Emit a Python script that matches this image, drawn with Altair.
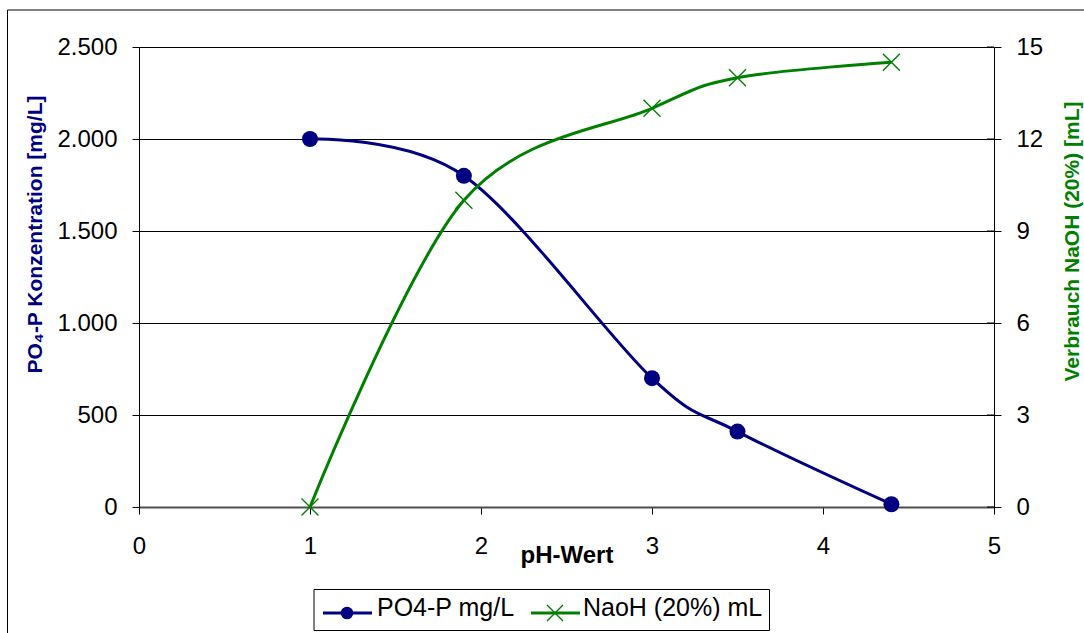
import altair as alt
import pandas as pd

# Titration: phosphate concentration and NaOH consumption vs. pH
ph_values = [1.0, 1.9, 3.0, 3.5, 4.4]
po4_mg_l = [2000, 1800, 700, 410, 15]
naoh_ml = [0.0, 10.0, 13.0, 14.0, 14.5]

po4_ticks = [0, 500, 1000, 1500, 2000, 2500]
naoh_ticks = [0, 3, 6, 9, 12, 15]
ph_ticks = [0, 1, 2, 3, 4, 5]

legend_labels = ["PO4-P mg/L", "NaoH (20%) mL"]

BLUE = "#000080"
GREEN = "#008000"
FONT = "Liberation Sans"
X_SHAPE = "M-1,-1L1,1M-1,1L1,-1"

df = pd.DataFrame({"ph": ph_values, "po4": po4_mg_l, "naoh": naoh_ml})
naoh_tick_df = pd.DataFrame({"naoh": naoh_ticks})
one = pd.DataFrame({"k": [0]})

x_enc = alt.X(
    "ph:Q",
    scale=alt.Scale(domain=[0, 5], nice=False),
    axis=alt.Axis(
        values=ph_ticks, grid=False, title="pH-Wert", format="d",
        titleFont=FONT, titleFontSize=24, titleFontWeight="bold", titleColor="black",
        titleBaseline="alphabetic", titleY=55,
        labelFont=FONT, labelFontSize=24, labelColor="black", labelPadding=20,
        labelFlush=False, tickSize=7, tickColor="black",
        domainColor="#4d4d4d", domainWidth=2,
    ),
)

y_po4 = alt.Y(
    "po4:Q",
    scale=alt.Scale(domain=[0, 2500], nice=False),
    axis=alt.Axis(
        orient="left", values=po4_ticks, grid=True, gridColor="black", gridWidth=1,
        title="PO₄-P Konzentration [mg/L]",
        titleFont=FONT, titleFontSize=21, titleFontWeight="bold", titleColor=BLUE,
        titleAngle=270, titleAlign="center", titleBaseline="middle",
        titleX=-104, titleY=187,
        labelExpr="replace(format(datum.value, ',d'), ',', '.')",
        labelFont=FONT, labelFontSize=24, labelColor="black", labelPadding=15,
        tickSize=7, tickColor="black", domainColor="black",
    ),
)

y_naoh = alt.Y(
    "naoh:Q",
    scale=alt.Scale(domain=[0, 15], nice=False),
    axis=alt.Axis(
        orient="right", values=naoh_ticks, grid=False, format="d",
        title="Verbrauch NaOH (20%) [mL]",
        titleFont=FONT, titleFontSize=21, titleFontWeight="bold", titleColor=GREEN,
        titleAngle=270, titleAlign="center", titleBaseline="middle",
        titleX=78, titleY=194,
        labelFont=FONT, labelFontSize=24, labelColor="black", labelPadding=15,
        tickSize=7, tickColor="black", domainColor="black",
    ),
)

po4_line = alt.Chart(df).mark_line(
    color=BLUE, strokeWidth=3, interpolate="cardinal", tension=0
).encode(x=x_enc, y=y_po4)
po4_pts = alt.Chart(df).mark_point(
    shape="circle", filled=True, color=BLUE, size=256, opacity=1
).encode(x="ph:Q", y="po4:Q")
po4_layer = alt.layer(po4_line, po4_pts)

naoh_line = alt.Chart(df).mark_line(
    color=GREEN, strokeWidth=3, interpolate="cardinal", tension=0
).encode(x="ph:Q", y=y_naoh)
naoh_pts = alt.Chart(df).mark_point(
    shape=X_SHAPE, filled=False, color=GREEN, size=289, strokeWidth=1.4, opacity=1
).encode(x="ph:Q", y="naoh:Q")
# inner half of the right-axis ticks (they cross the axis line)
naoh_inner_ticks = alt.Chart(naoh_tick_df).mark_rule(
    color="black", strokeWidth=1
).encode(y="naoh:Q", x=alt.value(848), x2=alt.value(855))
naoh_layer = alt.layer(naoh_line, naoh_pts, naoh_inner_ticks)

# Outer chart frame
frame = alt.Chart(one).mark_rect(
    fill="white", fillOpacity=0, stroke="black", strokeWidth=1
).encode(
    x=alt.value(-131.5), x2=alt.value(980), y=alt.value(-37), y2=alt.value(700)
)

# Legend box with line+marker samples
leg_box = alt.Chart(one).mark_rect(
    fill="white", stroke="black", strokeWidth=1
).encode(
    x=alt.value(175), x2=alt.value(630.5), y=alt.value(542.5), y2=alt.value(583.5)
)
leg_y = 566
leg_po4_line = alt.Chart(one).mark_rule(color=BLUE, strokeWidth=3).encode(
    x=alt.value(184), x2=alt.value(233), y=alt.value(leg_y)
)
leg_po4_pt = alt.Chart(one).mark_point(
    shape="circle", filled=True, color=BLUE, size=160, opacity=1
).encode(x=alt.value(208), y=alt.value(leg_y))
leg_po4_txt = alt.Chart(one).mark_text(
    text=legend_labels[0], font=FONT, fontSize=25, align="left",
    baseline="alphabetic", color="black"
).encode(x=alt.value(238), y=alt.value(569))

leg_naoh_line = alt.Chart(one).mark_rule(color=GREEN, strokeWidth=3).encode(
    x=alt.value(392), x2=alt.value(441), y=alt.value(leg_y)
)
leg_naoh_pt = alt.Chart(one).mark_point(
    shape=X_SHAPE, filled=False, color=GREEN, size=256, strokeWidth=1.4, opacity=1
).encode(x=alt.value(416), y=alt.value(leg_y))
leg_naoh_txt = alt.Chart(one).mark_text(
    text=legend_labels[1], font=FONT, fontSize=25, align="left",
    baseline="alphabetic", color="black"
).encode(x=alt.value(444), y=alt.value(569))

chart = alt.layer(
    frame, po4_layer, naoh_layer,
    leg_box, leg_po4_line, leg_po4_pt, leg_po4_txt,
    leg_naoh_line, leg_naoh_pt, leg_naoh_txt,
).resolve_scale(
    y="independent"
).properties(
    width=855, height=460,
    autosize=alt.AutoSizeParams(type="none"),
    padding={"left": 139, "top": 47, "right": 90, "bottom": 126},
    background="white",
).configure_view(
    stroke=None
)

chart.save("out.html", embed_options={"renderer": "svg", "actions": False})
